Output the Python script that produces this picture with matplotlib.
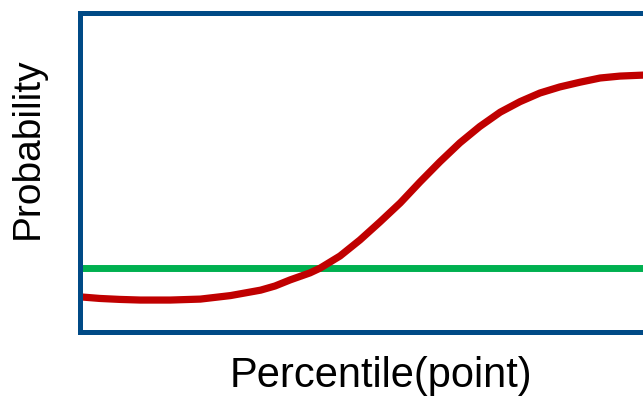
import matplotlib
matplotlib.use("Agg")
import matplotlib.pyplot as plt

# red curve (percentile 0-100, probability 0-1)
pct = [0, 3.3, 6.6, 10, 15, 20, 25, 30, 32.4, 34.9, 38.2, 39.9, 43.2, 46.5,
       49.8, 53.2, 56.5, 59.8, 63.1, 66.4, 69.8, 73.1, 76.4, 79.7, 83.1,
       86.4, 89.7, 93.5, 100]
prob = [0.110, 0.105, 0.102, 0.100, 0.100, 0.103, 0.114, 0.131, 0.144, 0.163,
        0.185, 0.200, 0.238, 0.288, 0.344, 0.404, 0.470, 0.533, 0.592, 0.643,
        0.688, 0.721, 0.748, 0.767, 0.782, 0.795, 0.801, 0.804, 0.808]
threshold = 0.20

plt.rcParams['font.family'] = ['Liberation Sans', 'DejaVu Sans']

fig = plt.figure(figsize=(6.43, 3.98), dpi=100, facecolor='w')
ax = fig.add_axes([80 / 643, 66 / 398, 602 / 643, 319.5 / 398])

ax.axhline(threshold, color='#00b050', lw=5)
ax.plot(pct, prob, color='#c00000', lw=5.2, solid_joinstyle='round', solid_capstyle='butt')

ax.set_xlim(0, 100)
ax.set_ylim(0, 1)
ax.set_xticks([])
ax.set_yticks([])
for spine in ('top', 'right', 'bottom', 'left'):
    ax.spines[spine].set_color('#004a86')
    ax.spines[spine].set_linewidth(3.6)

fig.text(381 / 643, 1 - 387 / 398, 'Percentile(point)', fontsize=30,
         ha='center', va='baseline')
fig.text(28 / 643, 1 - 148 / 398, 'Probability', fontsize=28, rotation=90,
         ha='center', va='center')

fig.savefig('out.png', dpi=100)
